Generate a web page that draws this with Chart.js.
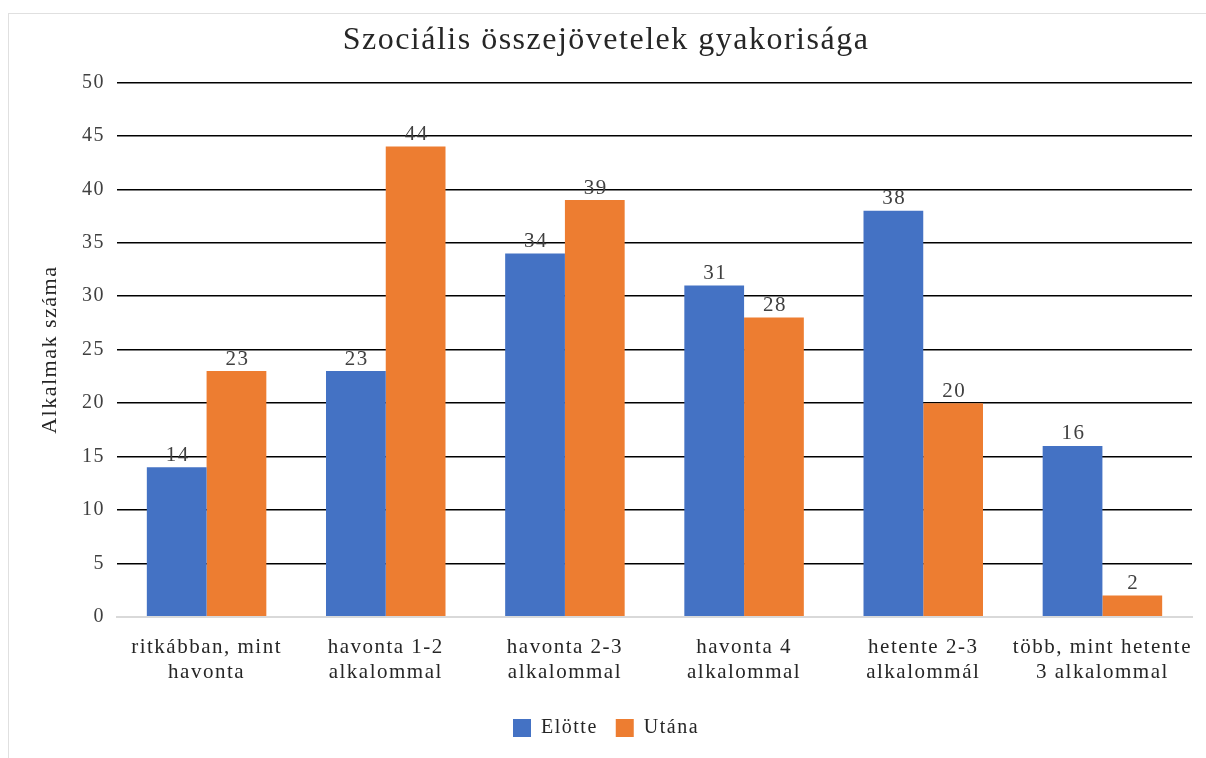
<!DOCTYPE html>
<html><head><meta charset="utf-8">
<script src="https://cdn.jsdelivr.net/npm/chart.js@4"></script>
<style>
html,body{margin:0;padding:0;background:#fff;overflow:hidden;}
#frame{position:absolute;left:8px;top:13px;width:1210px;height:760px;border:1px solid #e0e0e0;box-sizing:border-box;}
#wrap{position:absolute;left:0;top:0;width:1206px;height:758px;}
</style></head>
<body>
<div id="frame"></div>
<div id="wrap"><canvas id="c" width="1206" height="758"></canvas></div>
<script>
const categories = [["ritkábban, mint","havonta"],["havonta 1-2","alkalommal"],["havonta 2-3","alkalommal"],["havonta 4","alkalommal"],["hetente 2-3","alkalommál"],["több, mint hetente","3 alkalommal"]];
const elotte = [14,23,34,31,38,16];
const utana = [23,44,39,28,20,2];
const seriesNames = ["Elötte","Utána"];
const titleText = "Szociális összejövetelek gyakorisága";
const yTitle = "Alkalmak száma";

const FONT = "'Liberation Serif','Times New Roman',serif";
const SPACING = '1.5px';

const spacingPlugin = {
  id:'spacing',
  beforeUpdate(chart){ chart.ctx.letterSpacing = SPACING; },
  beforeLayout(chart){ chart.ctx.letterSpacing = SPACING; },
  beforeDraw(chart){ chart.ctx.letterSpacing = SPACING; }
};

const labelPlugin = {
  id:'barLabels',
  afterDatasetsDraw(chart){
    const ctx = chart.ctx;
    ctx.save();
    ctx.letterSpacing = SPACING;
    ctx.font = "21px " + FONT;
    ctx.fillStyle = "#404040";
    ctx.textAlign = "center";
    ctx.textBaseline = "middle";
    chart.data.datasets.forEach((ds,i)=>{
      const meta = chart.getDatasetMeta(i);
      meta.data.forEach((bar,j)=>{
        ctx.fillText(String(ds.data[j]), bar.x + 1, bar.y - 12);
      });
    });
    ctx.restore();
  }
};

new Chart(document.getElementById('c'),{
  type:'bar',
  data:{
    labels:categories,
    datasets:[
      {label:seriesNames[0],data:elotte,backgroundColor:'#4472C4',categoryPercentage:0.667,barPercentage:1.0},
      {label:seriesNames[1],data:utana,backgroundColor:'#ED7D31',categoryPercentage:0.667,barPercentage:1.0}
    ]
  },
  options:{
    responsive:false,
    animation:false,
    layout:{padding:{left:20,right:14,top:0,bottom:10}},
    plugins:{
      title:{display:true,text:titleText,color:'#262626',font:{family:FONT,size:32,weight:'normal'},padding:{top:21,bottom:23}},
      legend:{position:'bottom',labels:{color:'#262626',font:{family:FONT,size:20},boxWidth:18,boxHeight:18,padding:18}},
      tooltip:{enabled:false}
    },
    scales:{
      x:{
        grid:{display:false},
        border:{color:'#d9d9d9',width:2},
        ticks:{color:'#262626',font:{family:FONT,size:21,lineHeight:'25px'},maxRotation:0,autoSkip:false,padding:10},
        afterFit(s){ s.height = 83; }
      },
      y:{
        min:0,max:50,
        ticks:{stepSize:5,color:'#404040',font:{family:FONT,size:20},padding:12},
        grid:{color:(c)=>c.tick.value===0?'#d9d9d9':'#000000',lineWidth:(c)=>c.tick.value===0?2:1.5,drawTicks:false},
        border:{display:false},
        title:{display:true,text:yTitle,color:'#262626',font:{family:FONT,size:22},padding:{top:17,bottom:0}},
        afterFit(s){ s.width = 97; }
      }
    }
  },
  plugins:[spacingPlugin,labelPlugin]
});
</script>
</body></html>
